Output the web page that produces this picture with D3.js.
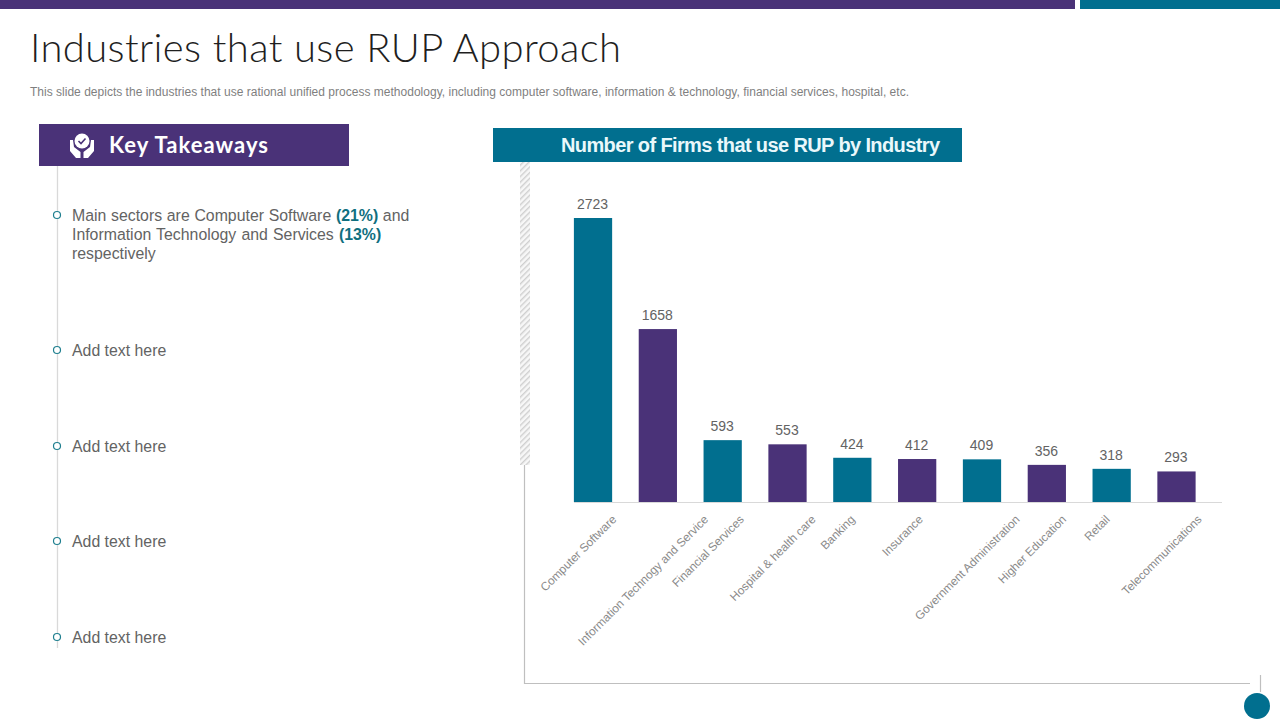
<!DOCTYPE html>
<html>
<head>
<meta charset="utf-8">
<script src="https://cdn.jsdelivr.net/npm/d3@7"></script>
<style>
html, body { margin: 0; padding: 0; background: #fff; }
svg { display: block; }
text { font-family: "Liberation Sans", Arial, sans-serif; }
</style>
</head>
<body>
<div id="main"></div>
<script>
const industries = ["Computer Software", "Information Technogy and Service", "Financial Services",
    "Hospital & health care", "Banking", "Insurance", "Government Administration",
    "Higher Education", "Retail", "Telecommunications"];
const firmCounts = [2723, 1658, 593, 553, 424, 412, 409, 356, 318, 293];
const addTextRows = ["Add text here", "Add text here", "Add text here", "Add text here"];
const addTextY = [350, 446, 541, 637];

const teal = "#016f8f", purple = "#4a3278";

const svg = d3.select("#main").append("svg")
    .attr("width", 1280)
    .attr("height", 720);

// hatch for the strip next to the chart
const hatch = svg.append("defs").append("pattern")
    .attr("id", "hatch")
    .attr("width", 4).attr("height", 4)
    .attr("patternUnits", "userSpaceOnUse")
    .attr("patternTransform", "rotate(-45)");
hatch.append("rect").attr("width", 4).attr("height", 4).attr("fill", "#f7f7f7");
hatch.append("rect").attr("width", 4).attr("height", 1.4).attr("fill", "#cfcfcf");

// top bands
svg.append("rect").attr("x", 0).attr("y", 0).attr("width", 1075).attr("height", 9).attr("fill", purple);
svg.append("rect").attr("x", 1080).attr("y", 0).attr("width", 200).attr("height", 9).attr("fill", teal);

// title
svg.append("text")
    .attr("x", 30).attr("y", 62)
    .attr("font-size", 40)
    .attr("font-weight", 300)
    .attr("fill", "#1f1f1f")
    .style("font-family", "Lato")
    .attr("textLength", 591)
    .text("Industries that use RUP Approach");

svg.append("text")
    .attr("x", 30).attr("y", 96)
    .attr("font-size", 12)
    .attr("fill", "#7f7f7f")
    .attr("textLength", 879)
    .text("This slide depicts the industries that use rational unified process methodology, including computer software, information & technology, financial services, hospital, etc.");

// left panel
svg.append("line")
    .attr("x1", 57.5).attr("x2", 57.5)
    .attr("y1", 166).attr("y2", 648)
    .attr("stroke", "#d9d9d9").attr("stroke-width", 1.3);

svg.append("rect").attr("x", 39).attr("y", 124).attr("width", 310).attr("height", 42).attr("fill", purple);

svg.append("text")
    .attr("x", 109).attr("y", 153)
    .attr("font-size", 22)
    .attr("font-weight", 700)
    .attr("fill", "#fff")
    .style("font-family", "Lato")
    .attr("textLength", 159)
    .text("Key Takeaways");

// hands + badge icon
const icon = svg.append("g").attr("transform", "translate(82,146)");
icon.append("circle").attr("cy", -5).attr("r", 7.5).attr("fill", "#fff");
icon.append("path").attr("d", "M-3.5,-5 L-1,-2.5 L3.5,-7.5").attr("fill", "none").attr("stroke", purple).attr("stroke-width", 1.6);
icon.append("path").attr("d", "M-12,-6 L-9,-6 L-8,1 L-1.5,6 L-1.5,12 L-6,12 L-12,5 Z").attr("fill", "#fff");
icon.append("path").attr("d", "M12,-6 L9,-6 L8,1 L1.5,6 L1.5,12 L6,12 L12,5 Z").attr("fill", "#fff");

function bullet(y) {
    svg.append("circle")
        .attr("cx", 57).attr("cy", y).attr("r", 3.5)
        .attr("fill", "#fff").attr("stroke", "#1f7f8f").attr("stroke-width", 1.2);
}

function bodyLine(y, parts, wordSpacing) {
    const t = svg.append("text")
        .attr("x", 72).attr("y", y)
        .attr("font-size", 15.85)
        .attr("fill", "#636363")
        .style("word-spacing", (wordSpacing || 0) + "px");
    parts.forEach(function (p) {
        t.append("tspan")
            .attr("font-weight", p[1] ? 700 : 400)
            .attr("fill", p[1] ? "#0f6f7f" : "#636363")
            .text(p[0]);
    });
}

bullet(215);
bodyLine(221, [["Main sectors are Computer Software ", false], ["(21%)", true], [" and", false]], 0.3);
bodyLine(240, [["Information Technology and Services ", false], ["(13%)", true]], 0.75);
bodyLine(259, [["respectively", false]]);

addTextRows.forEach(function (d, i) {
    bullet(addTextY[i]);
    bodyLine(addTextY[i] + 6, [[d, false]]);
});

// chart header
svg.append("rect").attr("x", 493).attr("y", 128).attr("width", 469).attr("height", 34).attr("fill", teal);
svg.append("text")
    .attr("x", 561).attr("y", 152)
    .attr("font-size", 20)
    .attr("font-weight", 700)
    .attr("fill", "#eaf8fb")
    .attr("textLength", 379)
    .text("Number of Firms that use RUP by Industry");

// frame around the chart
svg.append("rect").attr("x", 520).attr("y", 162).attr("width", 10).attr("height", 303).attr("fill", "url(#hatch)");
svg.append("path")
    .attr("d", "M524.5,465 V683.5 H1250")
    .attr("fill", "none").attr("stroke", "#bfbfbf").attr("stroke-width", 1.2);
svg.append("line")
    .attr("x1", 1260.5).attr("x2", 1260.5)
    .attr("y1", 675).attr("y2", 692)
    .attr("stroke", "#bfbfbf").attr("stroke-width", 1.2);
svg.append("circle").attr("cx", 1257).attr("cy", 706).attr("r", 13).attr("fill", teal);

// bars
const x = d3.scaleBand()
    .domain(industries)
    .range([560.6, 1208.9])
    .paddingInner(0.41)
    .paddingOuter(0.205);

const y = d3.scaleLinear()
    .domain([0, 2723])
    .range([502, 218]);

svg.append("g")
    .selectAll("rect")
    .data(firmCounts)
    .join("rect")
    .attr("x", function (d, i) { return x(industries[i]); })
    .attr("y", function (d) { return y(d); })
    .attr("width", x.bandwidth())
    .attr("height", function (d) { return y(0) - y(d); })
    .attr("fill", function (d, i) { return i % 2 == 0 ? teal : purple; });

svg.append("g")
    .selectAll("text")
    .data(firmCounts)
    .join("text")
    .attr("x", function (d, i) { return x(industries[i]) + x.bandwidth() / 2 - 0.5; })
    .attr("y", function (d) { return y(d) - 9; })
    .attr("text-anchor", "middle")
    .attr("font-size", 14)
    .attr("fill", "#636363")
    .text(function (d) { return d; });

// x axis, labels rotated and hung from a common top line
const axis = svg.append("g")
    .attr("transform", "translate(0,502)")
    .call(d3.axisBottom(x).tickSize(0));

axis.select(".domain").remove();
svg.append("line")
    .attr("x1", 574).attr("x2", 1222)
    .attr("y1", 502.5).attr("y2", 502.5)
    .attr("stroke", "#d9d9d9").attr("stroke-width", 1.2);

axis.selectAll("text")
    .attr("font-size", 11.8)
    .attr("fill", "#8a8a8a")
    .style("font-family", '"Liberation Sans", Arial, sans-serif')
    .attr("text-anchor", "end")
    .attr("dy", "0.32em")
    .each(function () {
        const reach = this.getComputedTextLength() * Math.SQRT1_2;
        d3.select(this)
            .attr("y", 0)
            .attr("transform", `translate(${reach / 2 - 14.5},15.5) rotate(-45)`);
    });
</script>
</body>
</html>
